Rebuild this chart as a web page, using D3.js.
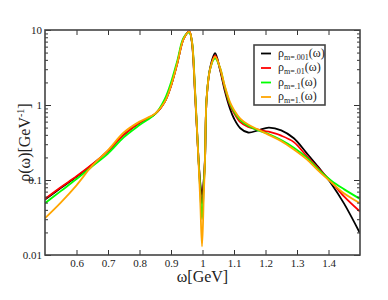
<!DOCTYPE html>
<html>
<head>
<meta charset="utf-8">
<script src="https://cdn.jsdelivr.net/npm/d3@7"></script>
<style>
  body { margin: 0; background: #fff; }
  svg text { font-family: "Liberation Serif", "Times New Roman", serif; fill: #222; }
</style>
</head>
<body>
<svg id="chart" width="388" height="300"></svg>
<script>
// omega grid (GeV) shared by all curves
const omega = [0.5, 0.55, 0.6, 0.65, 0.7, 0.75, 0.8, 0.85, 0.88, 0.9, 0.92, 0.94, 0.958, 0.966, 0.976, 0.987,
  0.993, 0.9985, 1.004, 1.008, 1.013, 1.024, 1.04, 1.056, 1.07, 1.087, 1.1, 1.12, 1.145, 1.177, 1.21, 1.25,
  1.29, 1.33, 1.37, 1.41, 1.45, 1.5];

const rhoM001 = [0.055, 0.078, 0.11, 0.16, 0.245, 0.4, 0.58, 0.76, 1.1, 1.8, 3.6, 7.6, 9.6, 7.0, 1.5, 0.2,
  0.09, 0.063, 0.1, 0.2, 1.2, 3.1, 4.9, 2.9, 1.6, 0.9, 0.66, 0.49, 0.43, 0.46, 0.5, 0.46,
  0.36, 0.23, 0.145, 0.088, 0.048, 0.0195];
const rhoM01 = [0.056, 0.08, 0.112, 0.162, 0.245, 0.4, 0.58, 0.76, 1.1, 1.8, 3.6, 7.6, 9.5, 7.2, 1.6, 0.2,
  0.08, 0.048, 0.09, 0.19, 1.2, 3.0, 4.6, 3.0, 1.7, 1.0, 0.78, 0.59, 0.51, 0.47, 0.44, 0.39,
  0.32, 0.21, 0.14, 0.094, 0.06, 0.038];
const rhoM1 = [0.049, 0.071, 0.103, 0.152, 0.225, 0.37, 0.54, 0.76, 1.2, 2.0, 3.9, 7.9, 9.2, 7.3, 1.7, 0.2,
  0.07, 0.03, 0.08, 0.19, 1.2, 3.0, 4.2, 3.1, 1.8, 1.05, 0.82, 0.63, 0.53, 0.46, 0.41, 0.34,
  0.27, 0.2, 0.135, 0.097, 0.075, 0.056];
const rhoM1dot = [0.031, 0.05, 0.085, 0.155, 0.25, 0.43, 0.6, 0.77, 1.1, 1.8, 3.6, 7.6, 9.5, 7.2, 1.6, 0.19,
  0.05, 0.013, 0.06, 0.19, 1.2, 3.0, 4.4, 3.1, 1.85, 1.1, 0.86, 0.66, 0.55, 0.47, 0.4, 0.33,
  0.255, 0.19, 0.13, 0.092, 0.066, 0.049];

const seriesNames = [".001", ".01", ".1", "1."];
const seriesColors = ["#000000", "#ff0000", "#00ff00", "#ffa500"];
const seriesValues = [rhoM001, rhoM01, rhoM1, rhoM1dot];

const xTicks = [0.6, 0.7, 0.8, 0.9, 1.0, 1.1, 1.2, 1.3, 1.4];
const yTicks = [0.01, 0.1, 1, 10];

const margin = { top: 30, right: 28, bottom: 45, left: 45 };
const width = 388 - margin.left - margin.right;
const height = 300 - margin.top - margin.bottom;
const serif = '"Liberation Serif", "Times New Roman", serif';

const svg = d3.select('#chart');
const g = svg.append('g').attr('transform', `translate(${margin.left},${margin.top})`);

const x = d3.scaleLinear().domain([0.5, 1.5]).range([0, width]);
const y = d3.scaleLog().domain([0.01, 10]).range([height, 0]);

// minor log ticks 2..9 in each decade
const minorY = [];
[0.01, 0.1, 1].forEach(d => { for (let k = 2; k <= 9; k++) minorY.push(d * k); });

const line = d3.line()
  .x((d, i) => x(omega[i]))
  .y(d => y(d))
  .curve(d3.curveCatmullRom.alpha(0.5));

g.append('clipPath').attr('id', 'clip')
  .append('rect').attr('width', width).attr('height', height);

seriesValues.forEach((vals, i) => {
  g.append('path')
    .datum(vals)
    .attr('d', line)
    .attr('clip-path', 'url(#clip)')
    .style('fill', 'none')
    .style('stroke', seriesColors[i])
    .style('stroke-width', '1.8px');
});

const styleAxis = (sel) => {
  sel.attr('font-family', serif);
  sel.select('.domain').remove();
  sel.selectAll('line').attr('stroke', '#333').attr('stroke-width', 1);
  sel.selectAll('text').style('font-size', '11px').style('font-family', serif).attr('fill', '#222');
};

// bottom and top
g.append('g').attr('transform', `translate(0,${height})`)
  .call(d3.axisBottom(x).tickValues(xTicks).tickSize(-5).tickPadding(4).tickFormat(d3.format('')))
  .call(styleAxis);
g.append('g')
  .call(d3.axisTop(x).tickValues(xTicks).tickSize(-5).tickFormat(''))
  .call(styleAxis);

// left and right
g.append('g')
  .call(d3.axisLeft(y).tickValues(yTicks).tickSize(-6).tickPadding(3).tickFormat(d => d >= 1 ? d3.format('d')(d) : String(d)))
  .call(styleAxis);
g.append('g')
  .call(d3.axisLeft(y).tickValues(minorY).tickSize(-3).tickFormat(''))
  .call(styleAxis);
g.append('g').attr('transform', `translate(${width},0)`)
  .call(d3.axisRight(y).tickValues(yTicks).tickSize(-6).tickFormat(''))
  .call(styleAxis);
g.append('g').attr('transform', `translate(${width},0)`)
  .call(d3.axisRight(y).tickValues(minorY).tickSize(-3).tickFormat(''))
  .call(styleAxis);

// frame
g.append('rect')
  .attr('width', width)
  .attr('height', height)
  .style('fill', 'none')
  .style('stroke', '#444')
  .style('stroke-width', 1.6);

// axis titles
g.append('text')
  .attr('text-anchor', 'middle')
  .attr('x', width / 2)
  .attr('y', height + 27)
  .style('font-size', '16px')
  .text('ω[GeV]');

const yLab = g.append('text')
  .attr('text-anchor', 'middle')
  .attr('transform', `translate(${-15},${height / 2}) rotate(-90)`)
  .style('font-size', '16px');
yLab.append('tspan').text('ρ(ω)[GeV');
yLab.append('tspan').attr('dy', -6).style('font-size', '10px').text('-1');
yLab.append('tspan').attr('dy', 6).text(']');

// legend
const lg = g.append('g').attr('transform', `translate(${209},${15})`);
lg.append('rect')
  .attr('width', 71)
  .attr('height', 60)
  .style('fill', '#fff')
  .style('stroke', '#444')
  .style('stroke-width', 1.6);
seriesNames.forEach((name, i) => {
  const yy = 8.5 + i * 14.5;
  lg.append('line')
    .attr('x1', 7).attr('x2', 17)
    .attr('y1', yy).attr('y2', yy)
    .style('stroke', seriesColors[i])
    .style('stroke-width', 1.8);
  const t = lg.append('text')
    .attr('x', 24)
    .attr('y', yy + 3)
    .style('font-size', '12px');
  t.append('tspan').text('ρ');
  t.append('tspan').attr('dy', 3).style('font-size', '8px').text('m=' + name);
  t.append('tspan').attr('dy', -3).text('(ω)');
});
</script>
</body>
</html>
